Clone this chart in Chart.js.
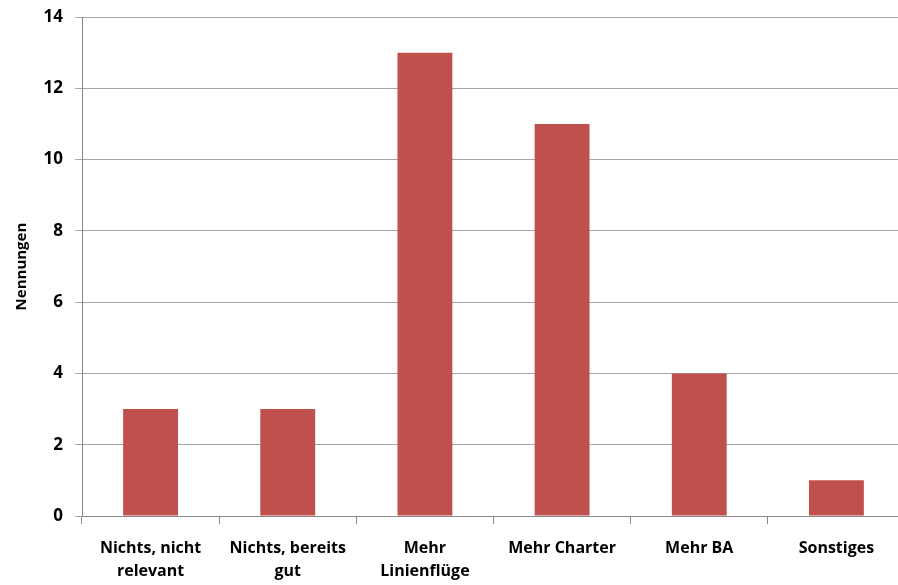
<!DOCTYPE html>
<html>
<head>
<meta charset="utf-8">
<script src="https://cdn.jsdelivr.net/npm/chart.js@4"></script>
<style>
  html, body { margin: 0; padding: 0; background: #fff; overflow: hidden; }
  #wrap { width: 906px; height: 585px; }
</style>
</head>
<body>
<div id="wrap"><canvas id="chart" width="906" height="585"></canvas></div>
<script>
// Categories and values
const categories = [
    ['Nichts, nicht', 'relevant'],
    ['Nichts, bereits', 'gut'],
    ['Mehr', 'Linienflüge'],
    'Mehr Charter',
    'Mehr BA',
    'Sonstiges'
];
const nennungen = [3, 3, 13, 11, 4, 1];
const yTitle = 'Nennungen';

const fontFamily = '"Open Sans", Lato, sans-serif';

new Chart(document.getElementById('chart').getContext('2d'), {
    type: 'bar',
    data: {
        labels: categories,
        datasets: [{
            label: yTitle,
            data: nennungen,
            backgroundColor: '#C0504D',
            borderWidth: 0,
            barPercentage: 0.4,
            categoryPercentage: 1
        }]
    },
    options: {
        responsive: false,
        animation: false,
        layout: { padding: { top: 16, left: 0, right: 1, bottom: 0 } },
        plugins: {
            legend: { display: false },
            tooltip: { enabled: false }
        },
        scales: {
            x: {
                grid: {
                    offset: true,
                    drawOnChartArea: false,
                    tickLength: 8,
                    color: '#888888'
                },
                border: { color: '#888888' },
                ticks: {
                    color: '#000',
                    font: { family: fontFamily, size: 16, weight: 'bold', lineHeight: 1.42 },
                    padding: 13,
                    maxRotation: 0,
                    autoSkip: false
                },
                afterFit: (scale) => { scale.height = 69; }
            },
            y: {
                min: 0,
                max: 14,
                grid: {
                    color: '#A6A6A6',
                    tickLength: 7,
                    tickColor: '#A6A6A6'
                },
                border: { color: '#888888' },
                ticks: {
                    stepSize: 2,
                    color: '#000',
                    // small lineHeight so the top label doesn't push the plot down
                    font: { family: fontFamily, size: 17, weight: 'bold', lineHeight: 0.6 },
                    padding: 12
                },
                title: {
                    display: true,
                    text: yTitle,
                    color: '#000',
                    font: { family: fontFamily, size: 15, weight: 'bold' },
                    padding: { top: 13, bottom: 0 }
                },
                afterFit: (scale) => { scale.width = 82; }
            }
        }
    }
});
</script>
</body>
</html>
